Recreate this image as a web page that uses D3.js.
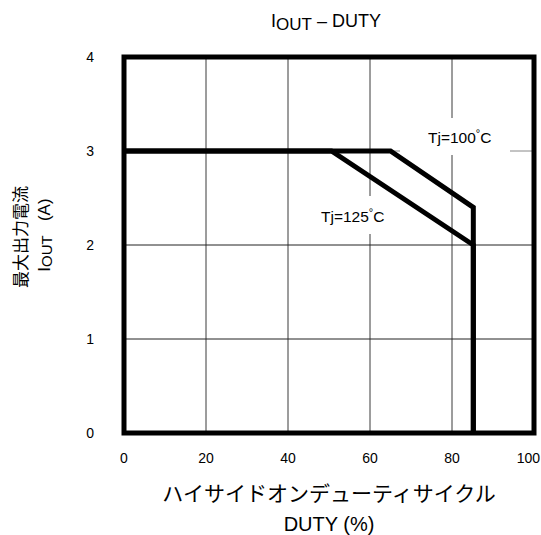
<!DOCTYPE html>
<html><head><meta charset="utf-8">
<script src="https://cdn.jsdelivr.net/npm/d3@7"></script>
<style>
html,body{margin:0;padding:0;background:#fff;}
svg{display:block;}
text{font-family:"Liberation Sans",Arial,sans-serif;fill:#000;}
.jp{font-family:"Noto Sans CJK JP","Noto Sans",sans-serif;}
</style></head>
<body>
<div id="chart"></div>
<script>
const xTicks = [0, 20, 40, 60, 80, 100];
const yTicks = [0, 1, 2, 3, 4];
const tj100Duty = [0, 65, 85.2, 85.2];
const tj100Iout = [3, 3, 2.4, 0];
const tj125Duty = [0, 50.6, 85.2, 85.2];
const tj125Iout = [3, 3, 2.0, 0];
const seriesLabels = ["Tj=100", "Tj=125"];

const W = 541, H = 535;
const m = {left: 124, right: 534, top: 57, bottom: 433};
const svg = d3.select("#chart").append("svg").attr("width", W).attr("height", H);

const x = d3.scaleLinear().domain([0, 100]).range([m.left, m.right]);
const y = d3.scaleLinear().domain([0, 4]).range([m.bottom, m.top]);

// grid
const g = svg.append("g");
g.selectAll(".vg").data(xTicks.slice(1, -1)).join("line")
  .attr("x1", d => x(d)).attr("x2", d => x(d))
  .attr("y1", y(4)).attr("y2", y(0))
  .attr("stroke", "#3a3a3a").attr("stroke-width", 1);
g.selectAll(".hg").data(yTicks.slice(1, -1)).join("line")
  .attr("x1", x(0)).attr("x2", x(100))
  .attr("y1", d => y(d)).attr("y2", d => y(d))
  .attr("stroke", d => d === 3 ? "#888" : "#222").attr("stroke-width", 1);

// label masks
svg.append("rect").attr("x", 400).attr("y", 118).attr("width", 110).attr("height", 37).attr("fill", "#fff");
svg.append("rect").attr("x", 318).attr("y", 196).attr("width", 75).attr("height", 38).attr("fill", "#fff");

// frame
svg.append("rect").attr("x", x(0)).attr("y", y(4))
  .attr("width", x(100) - x(0)).attr("height", y(0) - y(4))
  .attr("fill", "none").attr("stroke", "#000").attr("stroke-width", 5);

// curves
const line = d3.line().x(d => x(d[0])).y(d => y(d[1]));
[[tj100Duty, tj100Iout], [tj125Duty, tj125Iout]].forEach(([dx, dy]) => {
  svg.append("path").datum(dx.map((v, i) => [v, dy[i]]))
    .attr("d", line).attr("fill", "none").attr("stroke", "#000")
    .attr("stroke-width", 5).attr("stroke-linejoin", "miter");
});

// series labels
function tjLabel(px, py, base) {
  const t = svg.append("text").attr("x", px).attr("y", py).attr("font-size", 15.5);
  t.append("tspan").text(base);
  t.append("tspan").attr("font-size", 11).attr("dy", -6).text("°");
  t.append("tspan").attr("dy", 6).text("C");
}
tjLabel(428, 143, seriesLabels[0]);
tjLabel(321, 222, seriesLabels[1]);

// tick labels
svg.selectAll(".xt").data(xTicks).join("text")
  .attr("x", d => d === 100 ? 540 : x(d)).attr("y", 463)
  .attr("text-anchor", d => d === 100 ? "end" : "middle")
  .attr("font-size", 14).text(d => d);
svg.selectAll(".yt").data(yTicks).join("text")
  .attr("x", 94).attr("y", d => y(d)).attr("dy", "0.35em").attr("text-anchor", "end")
  .attr("font-size", 14).text(d => d);

// title
const tt = svg.append("text").attr("x", 326).attr("y", 27).attr("text-anchor", "middle").attr("font-size", 18);
tt.append("tspan").text("I");
tt.append("tspan").attr("font-size", 17).attr("dy", 3).text("OUT");
tt.append("tspan").attr("dy", -3).text(" – DUTY");

// x axis title
svg.append("text").attr("class", "jp").attr("x", 329).attr("y", 501)
  .attr("text-anchor", "middle").attr("font-size", 21).text("ハイサイドオンデューティサイクル");
svg.append("text").attr("x", 329).attr("y", 531)
  .attr("text-anchor", "middle").attr("font-size", 20).text("DUTY (%)");

// y axis title
svg.append("text").attr("class", "jp").attr("transform", "translate(27,237) rotate(-90)")
  .attr("text-anchor", "middle").attr("font-size", 17).text("最大出力電流");
const yt2 = svg.append("text").attr("transform", "translate(50,235) rotate(-90)")
  .attr("text-anchor", "middle").attr("font-size", 17);
yt2.append("tspan").text("I");
yt2.append("tspan").attr("font-size", 15).attr("dy", 2).text("OUT");
yt2.append("tspan").attr("dy", -2).text("\u00a0\u00a0\u00a0(A)");
</script>
</body></html>
